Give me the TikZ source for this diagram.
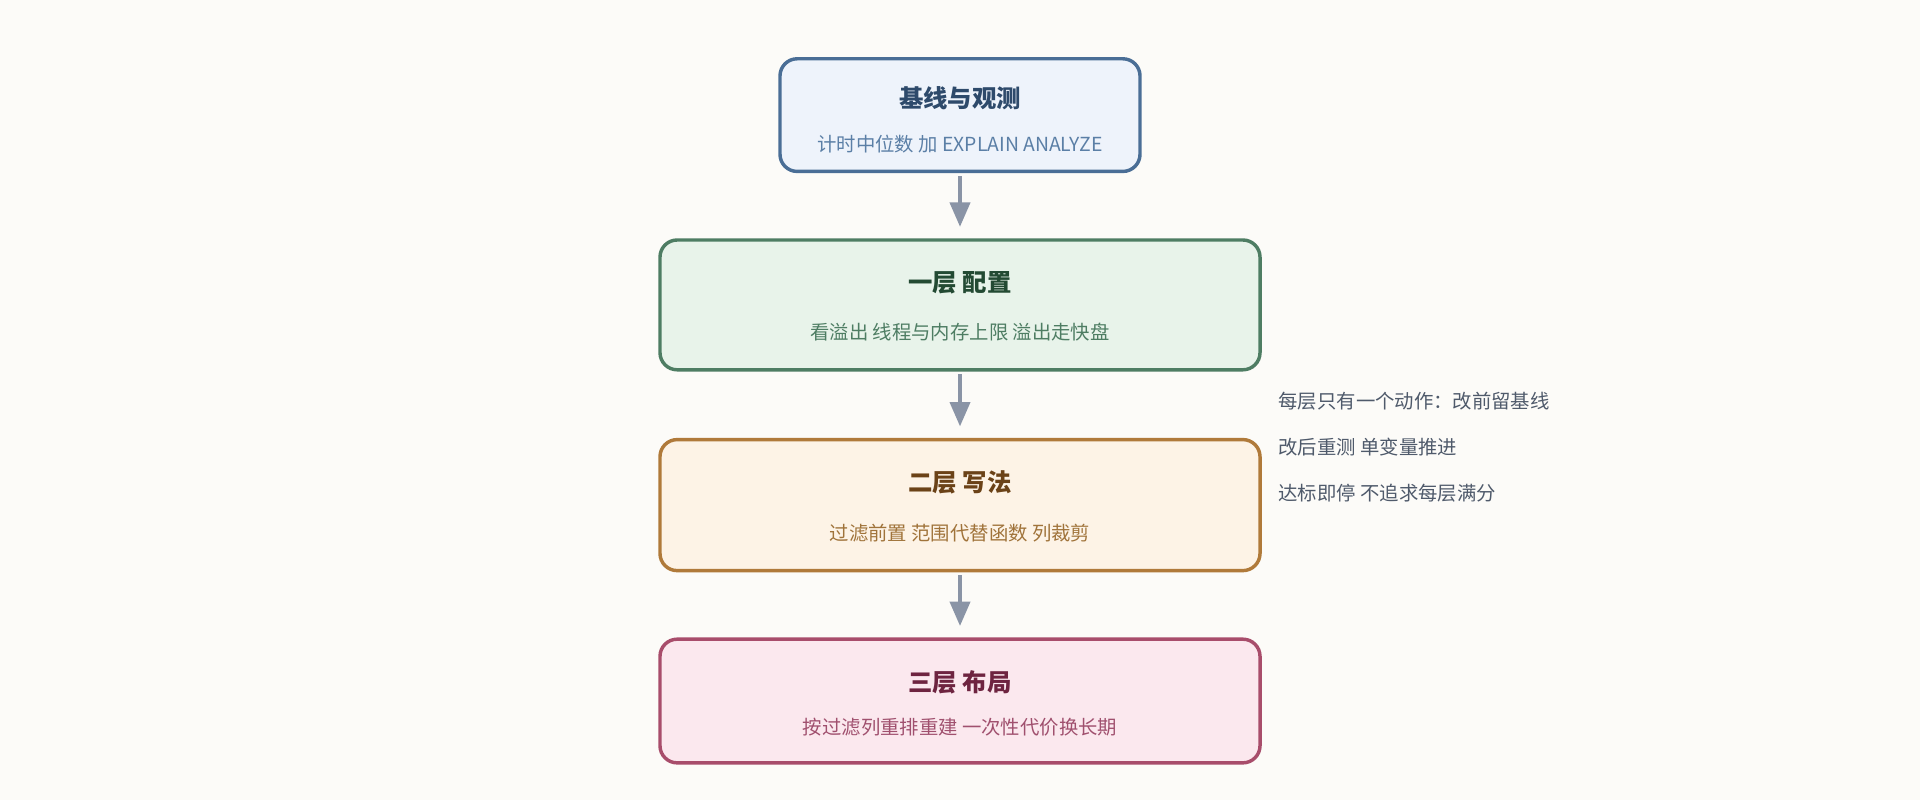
\documentclass[tikz,border=0pt]{standalone}
\usepackage{fontspec}
\setmainfont{Noto Sans CJK SC}
\usetikzlibrary{arrows.meta}
\definecolor{bgc}{HTML}{FCFBF8}
\definecolor{arrowc}{HTML}{8A94A6}
\definecolor{notec}{HTML}{4F5A6B}
\definecolor{fillA}{HTML}{EEF3FB}\definecolor{drawA}{HTML}{4A6E96}\definecolor{headA}{HTML}{2E4A6B}\definecolor{subA}{HTML}{5B7FA6}
\definecolor{fillB}{HTML}{E8F3EA}\definecolor{drawB}{HTML}{4E7D63}\definecolor{headB}{HTML}{234A33}\definecolor{subB}{HTML}{4E7D63}
\definecolor{fillC}{HTML}{FDF3E6}\definecolor{drawC}{HTML}{B07A3A}\definecolor{headC}{HTML}{6B4217}\definecolor{subC}{HTML}{A0733A}
\definecolor{fillD}{HTML}{FBE8EE}\definecolor{drawD}{HTML}{A84D6B}\definecolor{headD}{HTML}{6E2440}\definecolor{subD}{HTML}{A0506E}
\tikzset{
	stage/.style={draw=draw#1, fill=fill#1, line width=2.4pt, rounded corners=0.42cm, inner sep=0pt},
	head/.style={text=head#1, font=\bfseries\fontsize{17}{20}\selectfont},
	sub/.style={text=sub#1, font=\fontsize{13.5}{16}\selectfont},
	flow/.style={draw=arrowc, line width=2.6pt, -{Triangle[width=14pt,length=17pt]}},
	note/.style={text=notec, font=\fontsize{13.5}{16}\selectfont, anchor=west}
}
\begin{document}
\begin{tikzpicture}[x=0.03cm, y=-0.03cm]
	\fill[bgc] (0,0) rectangle (1568,653);
	\useasboundingbox (0,0) rectangle (1568,653);
	% stages
	\node [stage=A, minimum width=8.82cm, minimum height=2.76cm] (base) at (784,94) {};
	\node [head=A] (baseh) at (784,80) {基线与观测};
	\node [sub=A] (bases) at (784,118) {计时中位数 加 EXPLAIN ANALYZE};
	\node [stage=B, minimum width=14.7cm, minimum height=3.18cm] (one) at (784,249) {};
	\node [head=B] (oneh) at (784,231) {一层 配置};
	\node [sub=B] (ones) at (784,271) {看溢出 线程与内存上限 溢出走快盘};
	\node [stage=C, minimum width=14.7cm, minimum height=3.21cm] (two) at (784,412.5) {};
	\node [head=C] (twoh) at (784,394) {二层 写法};
	\node [sub=C] (twos) at (784,435) {过滤前置 范围代替函数 列裁剪};
	\node [stage=D, minimum width=14.7cm, minimum height=3.03cm] (three) at (784,572.5) {};
	\node [head=D] (threeh) at (784,557) {三层 布局};
	\node [sub=D] (threes) at (784,594) {按过滤列重排重建 一次性代价换长期};
	% arrows
	\draw [flow, shorten <=2pt, shorten >=8pt] (base) -- (one);
	\draw [flow, shorten <=2pt, shorten >=8pt] (one) -- (two);
	\draw [flow, shorten <=2pt, shorten >=8pt] (two) -- (three);
	% note
	\node [note] (n1) at (1040,328) {每层只有一个动作：改前留基线};
	\node [note] (n2) at (1040,365) {改后重测 单变量推进};
	\node [note] (n3) at (1040,403) {达标即停 不追求每层满分};
\end{tikzpicture}
\end{document}
